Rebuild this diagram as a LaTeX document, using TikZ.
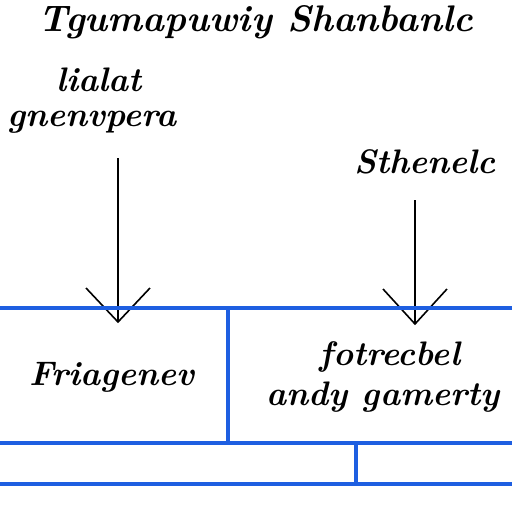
\documentclass[tikz,border=0pt]{standalone}
\usepackage{fontspec}
\usetikzlibrary{calc}
\begin{document}
\begin{tikzpicture}[x=1pt,y=-1pt,
  blueline/.style={draw={rgb,255:red,30;green,95;blue,225},line width=3.2pt},
  arr/.style={draw=black,line width=1.6pt},
  lbl/.style={font=\bfseries\itshape\fontsize{34}{38}\selectfont,inner sep=0pt},
  ttl/.style={font=\bfseries\itshape\fontsize{37}{40}\selectfont,inner sep=0pt}]
\useasboundingbox (0,0) rectangle (512,512);
\fill[white] (0,0) rectangle (512,512);
% texts
\node[ttl,anchor=base] (title) at (256,31) {Tgumapuwiy Shanbanlc};
\node[lbl] (l1) at (99,80) {lialat};
\node[lbl] (l2) at (92,122) {gnenvpera};
\node[lbl] (r1) at (425,162) {Sthenelc};
\node[lbl] (b1) at (112,377) {Friagenev};
\node[lbl] (b2) at (390,357) {fotrecbel};
\node[lbl] (b3) at (383,397) {andy gamerty};
% arrow coordinates
\coordinate (a1s) at (118,158);
\coordinate (a1e) at (118,322);
\coordinate (a2s) at (415,200);
\coordinate (a2e) at (415,324);
\draw[arr] (a1s) -- (a1e);
\draw[arr] ($(a1e)+(-32,-34)$) -- (a1e) -- ($(a1e)+(32,-34)$);
\draw[arr] (a2s) -- (a2e);
\draw[arr] ($(a2e)+(-32,-35)$) -- (a2e) -- ($(a2e)+(32,-35)$);
% blue grid
\coordinate (h1l) at (0,308); \coordinate (h1r) at (512,308);
\coordinate (h2l) at (0,443); \coordinate (h2r) at (512,443);
\coordinate (h3l) at (0,484); \coordinate (h3r) at (512,484);
\coordinate (v1t) at (228,308); \coordinate (v1b) at (228,443);
\coordinate (v2t) at (356,443); \coordinate (v2b) at (356,484);
\draw[blueline] (h1l) -- (h1r);
\draw[blueline] (h2l) -- (h2r);
\draw[blueline] (h3l) -- (h3r);
\draw[blueline] (v1t) -- (v1b);
\draw[blueline] (v2t) -- (v2b);
\end{tikzpicture}
\end{document}
